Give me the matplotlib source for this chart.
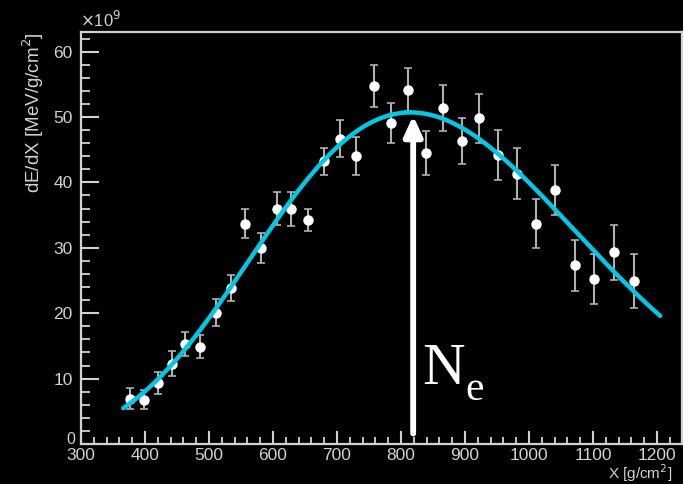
import numpy as np
import matplotlib
matplotlib.use("Agg")
import matplotlib.pyplot as plt
from matplotlib.ticker import MultipleLocator, FixedLocator
from matplotlib.transforms import ScaledTranslation

# ---- data (dE/dX in units of 1e9 MeV/g/cm^2) ----
depth = [377, 399, 421, 442, 462, 486, 511, 534, 556, 581, 606, 628, 654,
         680, 705, 730, 758, 784, 811, 839, 866, 895, 922, 952, 981, 1011,
         1041, 1072, 1102, 1133, 1164]
dedx = [6.9, 6.8, 9.3, 12.3, 15.3, 14.9, 20.1, 23.9, 33.7, 30.0, 36.0, 36.0,
        34.3, 43.2, 46.7, 44.0, 54.7, 49.1, 54.2, 44.5, 51.4, 46.3, 49.8,
        44.2, 41.3, 33.7, 38.8, 27.3, 25.2, 29.3, 24.9]
dedx_err = [1.6, 1.5, 1.7, 1.9, 1.8, 1.7, 2.0, 2.0, 2.2, 2.3, 2.5, 2.6, 1.7,
            2.1, 2.8, 2.9, 3.2, 3.1, 3.3, 3.4, 3.5, 3.5, 3.7, 3.8, 3.9, 3.7,
            3.8, 3.9, 3.8, 4.2, 4.1]

# Gaisser-Hillas fit parameters
gh_nmax = 50.7
gh_xmax = 815.0
gh_x0 = -240.0
gh_lambda = 61.1
fit_range = [366, 1205]

arrow_x = 819
arrow_y = [1.6, 50.2]

x_ticks = [300, 400, 500, 600, 700, 800, 900, 1000, 1100, 1200]
y_ticks = [10, 20, 30, 40, 50, 60]

fg = "#d2d2d2"

fig = plt.figure(figsize=(6.83, 4.84), dpi=100, facecolor="black")
ax = fig.add_axes([81/683, 1-444/484, 1-81/683-0.0015, (444-32)/484])
ax.set_facecolor("black")

xf = np.linspace(fit_range[0], fit_range[1], 400)
t = xf - gh_x0
a = gh_xmax - gh_x0
yf = gh_nmax * (t / a) ** (a / gh_lambda) * np.exp((a - t) / gh_lambda)

ax.errorbar(depth, dedx, yerr=dedx_err, fmt="o", color="white", ms=6.5,
            mec="white", ecolor="#b0b0b0", elinewidth=1.5, capsize=3,
            capthick=1.2, zorder=3)
ax.plot(xf, yf, color="#00c8e2", lw=3.2, zorder=4, solid_capstyle="round")

ax.annotate("", xy=(arrow_x, arrow_y[1]), xytext=(arrow_x, arrow_y[0]),
            arrowprops=dict(arrowstyle="-|>,head_length=1.2,head_width=0.55",
                            color="white", lw=4.2, shrinkA=0, shrinkB=0),
            zorder=5)
ax.text(833, 9.1, "N", color="white", fontsize=42.5,
        family="Liberation Serif", ha="left", va="baseline", zorder=6)
ax.text(900, 6.8, "e", color="white", fontsize=30,
        family="Liberation Serif", ha="left", va="baseline", zorder=6)

ax.set_xlim(300, 1239)
ax.set_ylim(0, 63)
ax.xaxis.set_major_locator(FixedLocator(x_ticks))
ax.xaxis.set_minor_locator(MultipleLocator(20))
ax.yaxis.set_major_locator(FixedLocator([0] + y_ticks))
ax.yaxis.set_minor_locator(MultipleLocator(2))
ax.set_yticklabels([""] + [str(v) for v in y_ticks])

for s in ax.spines.values():
    s.set_color(fg)
    s.set_linewidth(1.6)

ax.tick_params(axis="y", which="major", direction="in", length=13, width=1.5,
               color=fg, labelcolor=fg, labelsize=12.5, pad=6)
ax.tick_params(axis="y", which="minor", direction="in", length=6.5, width=1.3,
               color=fg)
ax.tick_params(axis="x", which="major", direction="in", length=9.5, width=1.5,
               color=fg, labelcolor=fg, labelsize=12.5, pad=3)
ax.tick_params(axis="x", which="minor", direction="in", length=5, width=1.3,
               color=fg)
for lab in ax.get_xticklabels() + ax.get_yticklabels():
    lab.set_family("Liberation Sans")

# the "0" label of the y axis sits just above the "300" label
ax.text(0, 0, "0", color=fg, fontsize=11.5, family="Liberation Sans",
        transform=ax.transAxes + ScaledTranslation(-4/72, -2.5/72, fig.dpi_scale_trans),
        ha="right", va="bottom")

fig.text(33/683, 1-32/484, "dE/dX [MeV/g/cm$^2$]", rotation=90, color=fg,
         fontsize=13.5, family="Liberation Sans", ha="center", va="top")
fig.text(608/683, 0.0, "X [g/cm$^2$]", color=fg, fontsize=11,
         family="Liberation Sans", ha="left", va="bottom")
fig.text(80/683, 1-27/484, r"$\times$10$^9$", color=fg, fontsize=12,
         family="Liberation Sans", ha="left", va="baseline")

fig.savefig("out.png", dpi=100, facecolor="black")
